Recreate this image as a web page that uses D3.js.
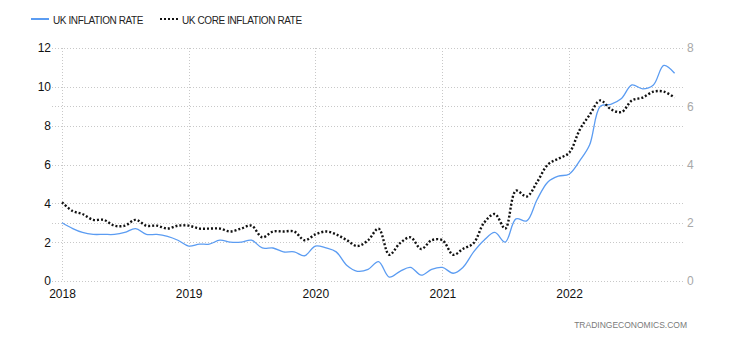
<!DOCTYPE html>
<html>
<head>
<meta charset="utf-8">
<script src="https://cdn.jsdelivr.net/npm/d3@7"></script>
<style>
  html, body { margin: 0; padding: 0; background: #fff; }
  svg { display: block; font-family: "Liberation Sans", Arial, sans-serif; }
</style>
</head>
<body>
<svg id="chart" width="730" height="340"></svg>
<script>
// Monthly readings, Jan 2018 – Nov 2022
const months = [
  "2018-01","2018-02","2018-03","2018-04","2018-05","2018-06","2018-07","2018-08","2018-09","2018-10","2018-11","2018-12",
  "2019-01","2019-02","2019-03","2019-04","2019-05","2019-06","2019-07","2019-08","2019-09","2019-10","2019-11","2019-12",
  "2020-01","2020-02","2020-03","2020-04","2020-05","2020-06","2020-07","2020-08","2020-09","2020-10","2020-11","2020-12",
  "2021-01","2021-02","2021-03","2021-04","2021-05","2021-06","2021-07","2021-08","2021-09","2021-10","2021-11","2021-12",
  "2022-01","2022-02","2022-03","2022-04","2022-05","2022-06","2022-07","2022-08","2022-09","2022-10","2022-11"
];

// UK inflation rate (%), left axis
const inflation = [
  3.0, 2.7, 2.5, 2.4, 2.4, 2.4, 2.5, 2.7, 2.4, 2.4, 2.3, 2.1,
  1.8, 1.9, 1.9, 2.1, 2.0, 2.0, 2.1, 1.7, 1.7, 1.5, 1.5, 1.3,
  1.8, 1.7, 1.5, 0.8, 0.5, 0.6, 1.0, 0.2, 0.5, 0.7, 0.3, 0.6,
  0.7, 0.4, 0.7, 1.5, 2.1, 2.5, 2.0, 3.2, 3.1, 4.2, 5.1, 5.4,
  5.5, 6.2, 7.0, 9.0, 9.1, 9.4, 10.1, 9.9, 10.1, 11.1, 10.7
];

// UK core inflation rate (%), right axis
const coreInflation = [
  2.7, 2.4, 2.3, 2.1, 2.1, 1.9, 1.9, 2.1, 1.9, 1.9, 1.8, 1.9,
  1.9, 1.8, 1.8, 1.8, 1.7, 1.8, 1.9, 1.5, 1.7, 1.7, 1.7, 1.4,
  1.6, 1.7, 1.6, 1.4, 1.2, 1.4, 1.8, 0.9, 1.3, 1.5, 1.1, 1.4,
  1.4, 0.9, 1.1, 1.3, 2.0, 2.3, 1.8, 3.1, 2.9, 3.4, 4.0, 4.2,
  4.4, 5.2, 5.7, 6.2, 5.9, 5.8, 6.2, 6.3, 6.5, 6.5, 6.3
];

const leftTicks = [0, 2, 4, 6, 8, 10, 12];
const rightTicks = [0, 2, 4, 6, 8];
const yearTicks = ["2018", "2019", "2020", "2021", "2022"];

const parseMonth = d3.timeParse("%Y-%m");
const parseYear = d3.timeParse("%Y");

const svg = d3.select("#chart");

const x = d3.scaleTime()
  .domain([parseYear("2018"), parseMonth("2022-12")])
  .range([62, 685]);
const yLeft = d3.scaleLinear().domain([0, 12]).range([281, 48]);
const yRight = d3.scaleLinear().domain([0, 8]).range([281, 48]);

// Grid
const grid = svg.append("g").attr("class", "grid");
const hLines = Array.from(new Set(
  leftTicks.map(v => Math.round(yLeft(v)))
    .concat(rightTicks.map(v => Math.round(yRight(v))))
));
grid.selectAll("line.h").data(hLines).join("line")
  .attr("class", "h")
  .attr("x1", 52).attr("x2", 684)
  .attr("y1", d => d + 0.5).attr("y2", d => d + 0.5)
  .attr("stroke", "#c8c8c8").attr("stroke-width", 1)
  .attr("stroke-dasharray", "1,2");
grid.selectAll("line.v").data(yearTicks).join("line")
  .attr("class", "v")
  .attr("x1", d => Math.round(x(parseYear(d))) + 0.5)
  .attr("x2", d => Math.round(x(parseYear(d))) + 0.5)
  .attr("y1", 48).attr("y2", 282)
  .attr("stroke", "#c8c8c8").attr("stroke-width", 1)
  .attr("stroke-dasharray", "1,2");

// Axes
const leftAxis = d3.axisLeft(yLeft).tickValues(leftTicks).tickSize(0).tickPadding(0);
svg.append("g").attr("transform", "translate(51,0)").call(leftAxis)
  .call(g => g.select(".domain").remove())
  .call(g => g.selectAll("text")
    .attr("font-size", 12).attr("fill", "#111")
    .attr("font-family", "Liberation Sans, Arial, sans-serif"));

const rightAxis = d3.axisRight(yRight).tickValues(rightTicks).tickSize(0).tickPadding(0);
svg.append("g").attr("transform", "translate(687,0)").call(rightAxis)
  .call(g => g.select(".domain").remove())
  .call(g => g.selectAll("text")
    .attr("font-size", 12).attr("fill", "#a8a8a8")
    .attr("font-family", "Liberation Sans, Arial, sans-serif"));

const bottomAxis = d3.axisBottom(x)
  .tickValues(yearTicks.map(parseYear))
  .tickFormat(d3.timeFormat("%Y"))
  .tickSize(0).tickPadding(0);
svg.append("g").attr("transform", "translate(0,289)").call(bottomAxis)
  .call(g => g.select(".domain").remove())
  .call(g => g.selectAll("text")
    .attr("font-size", 12).attr("fill", "#111")
    .attr("font-family", "Liberation Sans, Arial, sans-serif"));

// Series
const dates = months.map(parseMonth);
const curve = d3.curveCatmullRom.alpha(0.5);

const lineLeft = d3.line()
  .x((d, i) => x(dates[i]))
  .y(d => yLeft(d))
  .curve(curve);
const lineRight = d3.line()
  .x((d, i) => x(dates[i]))
  .y(d => yRight(d))
  .curve(curve);

svg.append("path")
  .datum(inflation)
  .attr("d", lineLeft)
  .attr("fill", "none")
  .attr("stroke", "#5b9cf2")
  .attr("stroke-width", 1.3);

svg.append("path")
  .datum(coreInflation)
  .attr("d", lineRight)
  .attr("fill", "none")
  .attr("stroke", "#111")
  .attr("stroke-width", 2.4)
  .attr("stroke-dasharray", "2,2");

// Legend
const legend = svg.append("g");
legend.append("line")
  .attr("x1", 31).attr("x2", 49).attr("y1", 19).attr("y2", 19)
  .attr("stroke", "#5b9cf2").attr("stroke-width", 2);
legend.append("text")
  .attr("x", 53).attr("y", 24)
  .attr("font-size", 10).attr("letter-spacing", "-0.4")
  .attr("fill", "#222")
  .text("UK INFLATION RATE");
legend.append("line")
  .attr("x1", 160).attr("x2", 178).attr("y1", 19).attr("y2", 19)
  .attr("stroke", "#111").attr("stroke-width", 2)
  .attr("stroke-dasharray", "2,2");
legend.append("text")
  .attr("x", 182).attr("y", 24)
  .attr("font-size", 10).attr("letter-spacing", "-0.4")
  .attr("fill", "#222")
  .text("UK CORE INFLATION RATE");

// Source credit
svg.append("text")
  .attr("x", 687).attr("y", 328)
  .attr("text-anchor", "end")
  .attr("font-size", 8.5)
  .attr("fill", "#7a7a7a")
  .text("TRADINGECONOMICS.COM");
</script>
</body>
</html>
